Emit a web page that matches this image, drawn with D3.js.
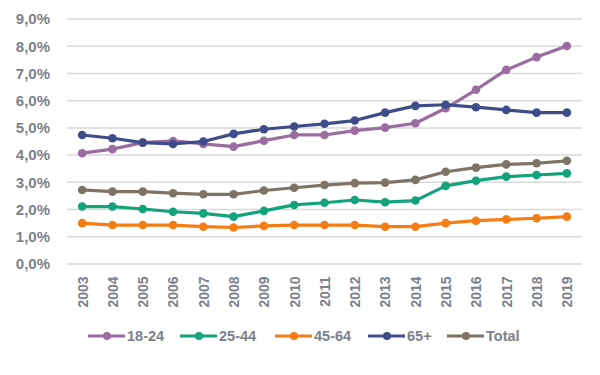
<!DOCTYPE html>
<html>
<head>
<meta charset="utf-8">
<script src="https://cdn.jsdelivr.net/npm/d3@7"></script>
<style>
  body { margin: 0; background: #fff; }
  text { font-family: "Liberation Sans", Arial, sans-serif; font-weight: bold; fill: #7b818c; }
</style>
</head>
<body>
<svg id="chart"></svg>
<script>
const years = ["2003","2004","2005","2006","2007","2008","2009","2010","2011","2012","2013","2014","2015","2016","2017","2018","2019"];
const seriesNames = ["18-24", "25-44", "45-64", "65+", "Total"];
const age18_24 = [4.07, 4.22, 4.46, 4.52, 4.41, 4.31, 4.53, 4.74, 4.74, 4.90, 5.01, 5.17, 5.72, 6.40, 7.13, 7.60, 8.01];
const age25_44 = [2.11, 2.11, 2.02, 1.92, 1.86, 1.74, 1.95, 2.17, 2.25, 2.35, 2.27, 2.33, 2.87, 3.06, 3.21, 3.27, 3.33];
const age45_64 = [1.50, 1.43, 1.43, 1.43, 1.37, 1.34, 1.40, 1.43, 1.43, 1.43, 1.37, 1.37, 1.50, 1.59, 1.64, 1.68, 1.74];
const age65 = [4.74, 4.62, 4.46, 4.41, 4.50, 4.78, 4.95, 5.05, 5.15, 5.27, 5.56, 5.81, 5.85, 5.76, 5.66, 5.56, 5.56];
const total = [2.72, 2.66, 2.66, 2.60, 2.56, 2.56, 2.70, 2.80, 2.90, 2.97, 2.99, 3.09, 3.39, 3.54, 3.66, 3.70, 3.79];
const yTicks = [0, 1, 2, 3, 4, 5, 6, 7, 8, 9];

const seriesValues = [age18_24, age25_44, age45_64, age65, total];
const colors = ["#9b6ca0", "#13a37a", "#f57d14", "#3e4d8a", "#7d7465"];

const width = 600, height = 375;
const svg = d3.select("#chart").attr("width", width).attr("height", height);

const x = d3.scalePoint().domain(years).range([67, 582]).padding(0.5);
const y = d3.scaleLinear().domain([0, 9]).range([264, 19]);

// gridlines
svg.append("g")
  .selectAll("line")
  .data(yTicks)
  .enter()
  .append("line")
  .attr("x1", 67).attr("x2", 582)
  .attr("y1", d => y(d)).attr("y2", d => y(d))
  .attr("stroke", "#d9d9d9")
  .attr("stroke-width", 1.5);

// y labels
const yAxis = svg.append("g")
  .attr("transform", "translate(50,0)")
  .call(d3.axisLeft(y).tickValues(yTicks).tickSize(0).tickPadding(0)
    .tickFormat(d => d3.format(".1f")(d).replace(".", ",") + "%"));
yAxis.select(".domain").remove();
yAxis.selectAll("text").style("font-size", "15px").attr("fill", "#7b818c");

// x labels
const xAxis = svg.append("g")
  .attr("transform", "translate(0,275)")
  .call(d3.axisBottom(x).tickSize(0).tickPadding(0));
xAxis.select(".domain").remove();
xAxis.selectAll("text")
  .style("font-size", "14px")
  .attr("fill", "#7b818c")
  .attr("text-anchor", "end")
  .attr("transform", "rotate(-90)")
  .attr("x", 0)
  .attr("y", 0)
  .attr("dx", "-0.1em")
  .attr("dy", "0.35em");

const line = d3.line()
  .x((d, i) => x(years[i]))
  .y(d => y(d));

seriesValues.forEach((vals, k) => {
  const g = svg.append("g");
  g.append("path")
    .datum(vals)
    .attr("d", line)
    .attr("fill", "none")
    .attr("stroke", colors[k])
    .attr("stroke-width", 3.2)
    .attr("stroke-linejoin", "round");
  g.selectAll("circle")
    .data(vals)
    .enter()
    .append("circle")
    .attr("cx", (d, i) => x(years[i]))
    .attr("cy", d => y(d))
    .attr("r", 4.3)
    .attr("fill", colors[k]);
});

// legend
const legendX = [88, 180, 275, 368, 447];
const legend = svg.append("g").attr("transform", "translate(0,336)");
seriesNames.forEach((name, k) => {
  const item = legend.append("g").attr("transform", `translate(${legendX[k]},0)`);
  item.append("line")
    .attr("x1", 0).attr("x2", 37)
    .attr("stroke", colors[k]).attr("stroke-width", 3.2);
  item.append("circle").attr("cx", 19).attr("r", 4).attr("fill", colors[k]);
  item.append("text")
    .attr("x", 39).attr("dy", "0.35em")
    .style("font-size", "14.5px")
    .text(name);
});
</script>
</body>
</html>
